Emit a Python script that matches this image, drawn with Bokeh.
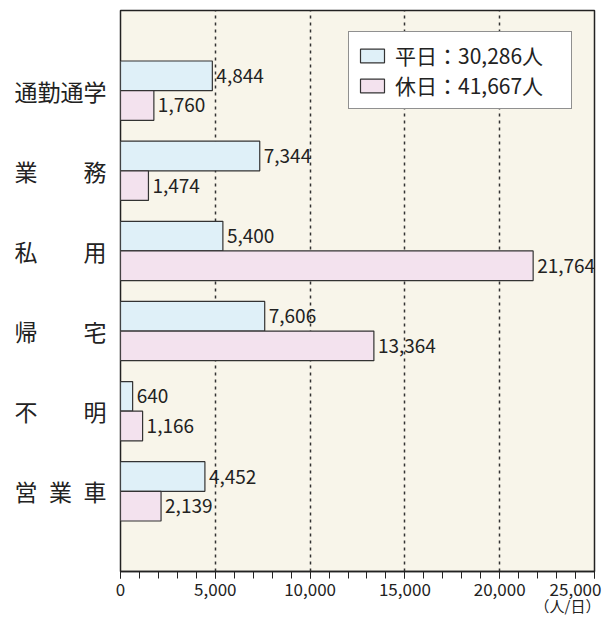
from bokeh.plotting import figure
from bokeh.models import ColumnDataSource, Range1d, FixedTicker, Legend, LegendItem, LinearAxis
from bokeh.core.properties import value
from bokeh.embed import file_html
from bokeh.resources import INLINE

categories = ["通勤通学", "業　　務", "私　　用", "帰　　宅", "不　　明", "営\u2002業\u2002車"]
weekday = [4844, 7344, 5400, 7606, 640, 4452]
holiday = [1760, 1474, 21764, 13364, 1166, 2139]
weekday_labels = ["4,844", "7,344", "5,400", "7,606", "640", "4,452"]
holiday_labels = ["1,760", "1,474", "21,764", "13,364", "1,166", "2,139"]
legend_labels = ["平日：30,286人", "休日：41,667人"]
x_ticks = [0, 5000, 10000, 15000, 20000, 25000]
x_tick_labels = ["0", "5,000", "10,000", "15,000", "20,000", "25,000"]
unit_label = "（人/日）"

FONT = "Noto Sans CJK JP"
W, H = 603, 618
BL, BR, BT, BB = 120, 9, 10, 46
FW, FH = W - BL - BR, H - BT - BB
# layout-only anchors (screen placement of the last tick label / unit, pulled inward so they fit)
LAST_LABEL_AT = 24000
UNIT_AT = 23900

n = len(categories)
ypos = [n - i for i in range(n)]
half = 0.185

src_w = ColumnDataSource(dict(y=[v + half for v in ypos], x=weekday, lab=weekday_labels))
src_h = ColumnDataSource(dict(y=[v - half for v in ypos], x=holiday, lab=holiday_labels))

p = figure(width=W, height=H, output_backend="svg", toolbar_location=None,
           x_range=Range1d(0, 25000), y_range=Range1d(0, n + 1),
           min_border_left=BL, min_border_right=BR, min_border_top=BT, min_border_bottom=BB)
p.background_fill_color = "#f8f5ea"
p.border_fill_color = "white"
p.outline_line_color = "#222222"
p.outline_line_width = 1.5

r1 = p.hbar(y="y", right="x", left=0, height=0.37, source=src_w,
            fill_color="#dff0f8", line_color="#333333", line_width=1.2)
r2 = p.hbar(y="y", right="x", left=0, height=0.37, source=src_h,
            fill_color="#f3e2ee", line_color="#333333", line_width=1.2)

for s in (src_w, src_h):
    p.text(x="x", y="y", text="lab", source=s, x_offset=4, text_baseline="middle",
           text_align="left", text_font=value(FONT), text_font_size="19px", text_color="#222222")

# grid
p.ygrid.grid_line_color = None
p.xgrid.ticker = FixedTicker(ticks=x_ticks[1:-1])
p.xgrid.grid_line_color = "#333333"
p.xgrid.grid_line_dash = "3 4"
p.xgrid.grid_line_width = 1.5

# x axis (ticks + labels)
xa = p.xaxis[0]
xa.ticker = FixedTicker(ticks=x_ticks + [LAST_LABEL_AT], minor_ticks=list(range(0, 25001, 1000)))
ov = {t: (l if t != x_ticks[-1] else "") for t, l in zip(x_ticks, x_tick_labels)}
ov[LAST_LABEL_AT] = x_tick_labels[-1]
xa.major_label_overrides = ov
xa.major_label_text_font = FONT
xa.major_label_text_font_size = "17px"
xa.major_label_text_color = "#222222"
xa.axis_line_color = "#222222"
xa.axis_line_width = 1.5
xa.major_tick_in = 0
xa.major_tick_out = 7
xa.minor_tick_in = 0
xa.minor_tick_out = 7
xa.major_tick_line_color = "#222222"
xa.minor_tick_line_color = "#222222"
xa.major_label_standoff = 4

# unit label row
ua = LinearAxis(ticker=FixedTicker(ticks=[UNIT_AT], minor_ticks=[]),
                major_label_overrides={UNIT_AT: unit_label})
ua.axis_line_color = None
ua.major_tick_line_color = None
ua.minor_tick_line_color = None
ua.major_tick_out = 0
ua.major_label_standoff = -4
ua.major_label_text_font = FONT
ua.major_label_text_font_size = "15px"
ua.major_label_text_color = "#222222"
p.add_layout(ua, "below")

# y axis
ya = p.yaxis[0]
ya.ticker = FixedTicker(ticks=ypos)
ya.major_label_overrides = {y: c for y, c in zip(ypos, categories)}
ya.major_label_text_font = FONT
ya.major_label_text_font_size = "23px"
ya.major_label_text_color = "#222222"
ya.axis_line_color = None
ya.major_tick_line_color = None
ya.minor_tick_line_color = None
ya.major_label_standoff = 8

legend = Legend(items=[LegendItem(label=legend_labels[0], renderers=[r1]),
                       LegendItem(label=legend_labels[1], renderers=[r2])],
                location=(228, FH - 100))
legend.label_text_font = FONT
legend.label_text_font_size = "21px"
legend.label_text_color = "#222222"
legend.label_width = 168
legend.glyph_width = 30
legend.glyph_height = 17
legend.label_standoff = 8
legend.spacing = 0
legend.padding = 8
legend.border_line_color = "#222222"
legend.border_line_width = 1.5
legend.background_fill_color = "white"
legend.background_fill_alpha = 1.0
p.add_layout(legend)

open("out.html", "w").write(file_html(p, INLINE))
